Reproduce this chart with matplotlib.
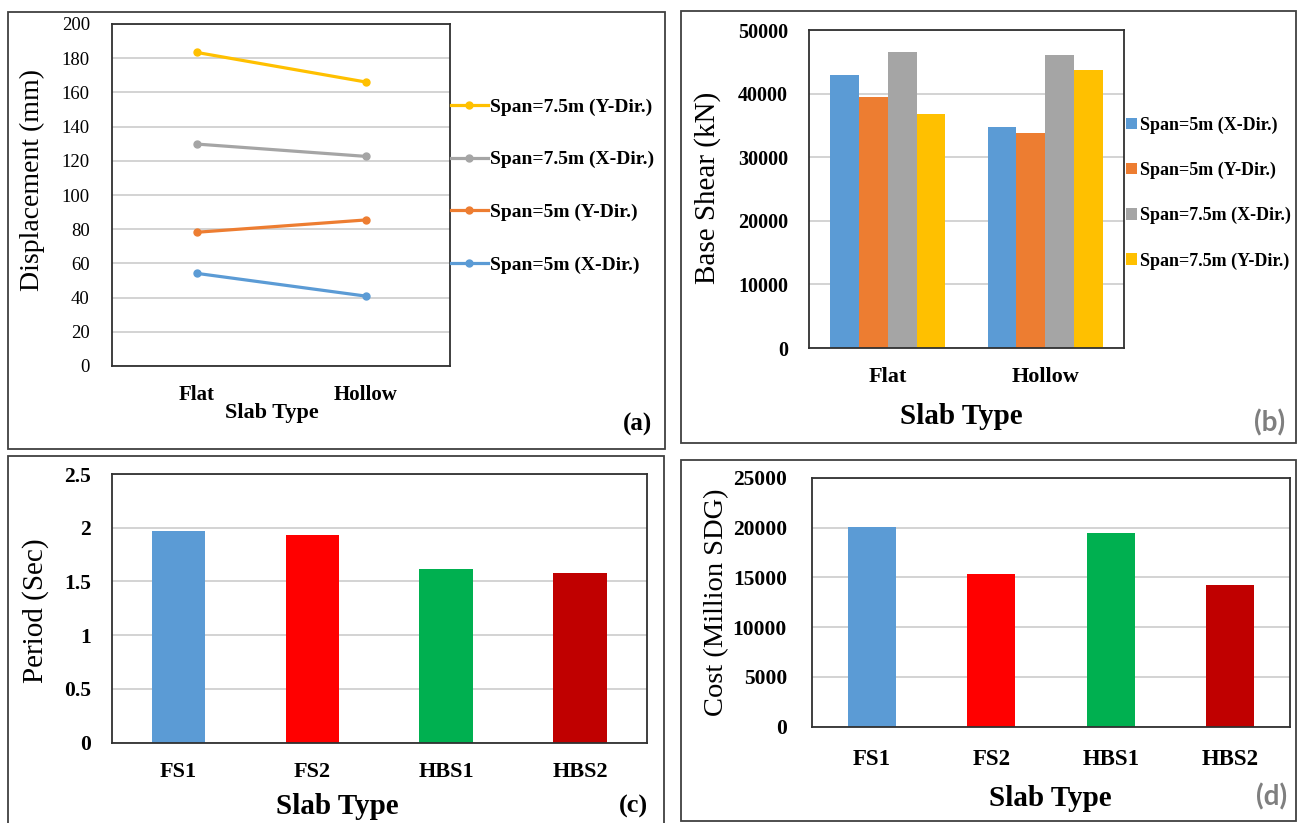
import matplotlib
matplotlib.use('Agg')
from matplotlib import pyplot as plt
from matplotlib.patches import Rectangle

# Data
slab_types = ['Flat', 'Hollow']
disp_5x = [54.2, 40.9]
disp_5y = [78.2, 85.4]
disp_75x = [129.8, 122.6]
disp_75y = [183.4, 166.1]

shear_5x = [42900, 34800]
shear_5y = [39500, 33750]
shear_75x = [46500, 46000]
shear_75y = [36750, 43750]

models = ['FS1', 'FS2', 'HBS1', 'HBS2']
period = [1.97, 1.93, 1.62, 1.58]
cost = [20100, 15300, 19400, 14250]

series_names = ['Span=5m (X-Dir.)', 'Span=5m (Y-Dir.)',
                'Span=7.5m (X-Dir.)', 'Span=7.5m (Y-Dir.)']
series_colors = ['#5B9BD5', '#ED7D31', '#A5A5A5', '#FFC000']
model_colors = ['#5B9BD5', '#FF0000', '#00B050', '#C00000']

W, H = 1298, 823
plt.rcParams['font.family'] = ['Liberation Serif', 'DejaVu Serif']

fig = plt.figure(figsize=(W / 100, H / 100), dpi=100)


def rect(l, t, r, b):
    # pixel box -> figure fraction
    return [l / W, 1 - b / H, (r - l) / W, (b - t) / H]


def frame(l, t, r, b):
    fig.add_artist(Rectangle((l / W, 1 - b / H), (r - l) / W, (b - t) / H,
                             transform=fig.transFigure, fill=False,
                             edgecolor='#404040', linewidth=1.3))


def style(ax, ypad, xpad, ysize, xsize, ybold):
    ax.grid(axis='y', color='#D0D0D0', linewidth=1.3)
    ax.set_axisbelow(True)
    for s in ax.spines.values():
        s.set_color('#303030')
        s.set_linewidth(1.3)
    ax.tick_params(axis='both', length=0)
    ax.tick_params(axis='y', pad=ypad, labelsize=ysize)
    ax.tick_params(axis='x', pad=xpad, labelsize=xsize)
    for lab in ax.get_xticklabels():
        lab.set_fontweight('bold')
    if ybold:
        for lab in ax.get_yticklabels():
            lab.set_fontweight('bold')


# panel frames
frame(8, 12, 665, 449)
frame(681, 11, 1296, 443)
frame(8, 456, 664, 830)
frame(681, 460, 1296, 821)

# (a) displacement lines
ax1 = fig.add_axes(rect(112, 24, 450, 366))
x = [0, 1]
handles = []
for vals, c, name in zip([disp_5x, disp_5y, disp_75x, disp_75y], series_colors, series_names):
    h, = ax1.plot(x, vals, color=c, linewidth=2.3, marker='o', markersize=5, label=name)
    handles.append(h)
ax1.set_xlim(-0.5, 1.5)
ax1.set_ylim(0, 200)
ax1.set_yticks(range(0, 201, 20))
ax1.set_xticks(x)
ax1.set_xticklabels(slab_types)
style(ax1, 16, 14, 13.5, 15, False)
fig.legend(handles[::-1], [h.get_label() for h in handles[::-1]],
           loc='center left', bbox_to_anchor=(451 / W, 1 - 186 / H),
           frameon=False, prop={'weight': 'bold', 'size': 14},
           handlelength=1.9, handletextpad=0.1, labelspacing=1.8, borderaxespad=0, borderpad=0)
fig.text(32 / W, 1 - 180 / H, 'Displacement (mm)', rotation=90, ha='center', va='center', fontsize=20)
fig.text(272 / W, 1 - 413 / H, 'Slab Type', ha='center', va='center', fontsize=16, fontweight='bold')
fig.text(637 / W, 1 - 424 / H, '(a)', ha='center', va='center', fontsize=18, fontweight='bold')

# (b) base shear grouped bars
ax2 = fig.add_axes(rect(809, 30, 1124, 348))
bw = 0.183
xs = [0, 1]
for i, (vals, c, name) in enumerate(zip([shear_5x, shear_5y, shear_75x, shear_75y], series_colors, series_names)):
    ax2.bar([p + (i - 1.5) * bw for p in xs], vals, width=bw, color=c, label=name)
ax2.set_xlim(-0.5, 1.5)
ax2.set_ylim(0, 50000)
ax2.set_yticks(range(0, 50001, 10000))
ax2.set_xticks(xs)
ax2.set_xticklabels(slab_types)
style(ax2, 15, 14, 14.5, 16, True)
ax2.legend(loc='center left', bbox_to_anchor=(1126 / W, 1 - 193 / H),
           bbox_transform=fig.transFigure, frameon=False,
           prop={'weight': 'bold', 'size': 13}, handlelength=0.6, handleheight=0.6,
           handletextpad=0.15, labelspacing=1.55, borderaxespad=0, borderpad=0)
fig.text(708 / W, 1 - 188 / H, 'Base Shear (kN)', rotation=90, ha='center', va='center', fontsize=21)
fig.text(961 / W, 1 - 417 / H, 'Slab Type', ha='center', va='center', fontsize=21, fontweight='bold')
fig.text(1270 / W, 1 - 423 / H, '(b)', ha='center', va='center', fontsize=20, fontweight='bold',
         family=['Lato', 'DejaVu Sans'], color='#7F7F7F')

# (c) period
ax3 = fig.add_axes(rect(111.5, 474, 647, 742.7))
ax3.bar(range(4), period, width=0.4, color=model_colors)
ax3.set_xlim(-0.5, 3.5)
ax3.set_ylim(0, 2.5)
ax3.set_yticks([0, 0.5, 1, 1.5, 2, 2.5])
ax3.set_yticklabels(['0', '0.5', '1', '1.5', '2', '2.5'])
ax3.set_xticks(range(4))
ax3.set_xticklabels(models)
style(ax3, 15, 14, 15.5, 16, True)
fig.text(36 / W, 1 - 611 / H, 'Period (Sec)', rotation=90, ha='center', va='center', fontsize=21)
fig.text(337 / W, 1 - 806 / H, 'Slab Type', ha='center', va='center', fontsize=21, fontweight='bold')
fig.text(633 / W, 1 - 806 / H, '(c)', ha='center', va='center', fontsize=19, fontweight='bold')

# (d) cost
ax4 = fig.add_axes(rect(812, 477.7, 1290, 726.7))
ax4.bar(range(4), cost, width=0.4, color=model_colors)
ax4.set_xlim(-0.5, 3.5)
ax4.set_ylim(0, 25000)
ax4.set_yticks(range(0, 25001, 5000))
ax4.set_xticks(range(4))
ax4.set_xticklabels(models)
style(ax4, 18, 16, 15.5, 16.5, True)
fig.text(717 / W, 1 - 602 / H, 'Cost (Million SDG)', rotation=90, ha='center', va='center', fontsize=20.5)
fig.text(1050 / W, 1 - 798 / H, 'Slab Type', ha='center', va='center', fontsize=21, fontweight='bold')
fig.text(1272 / W, 1 - 797 / H, '(d)', ha='center', va='center', fontsize=20, fontweight='bold',
         family=['Lato', 'DejaVu Sans'], color='#7F7F7F')

fig.savefig('out.png', dpi=100)
